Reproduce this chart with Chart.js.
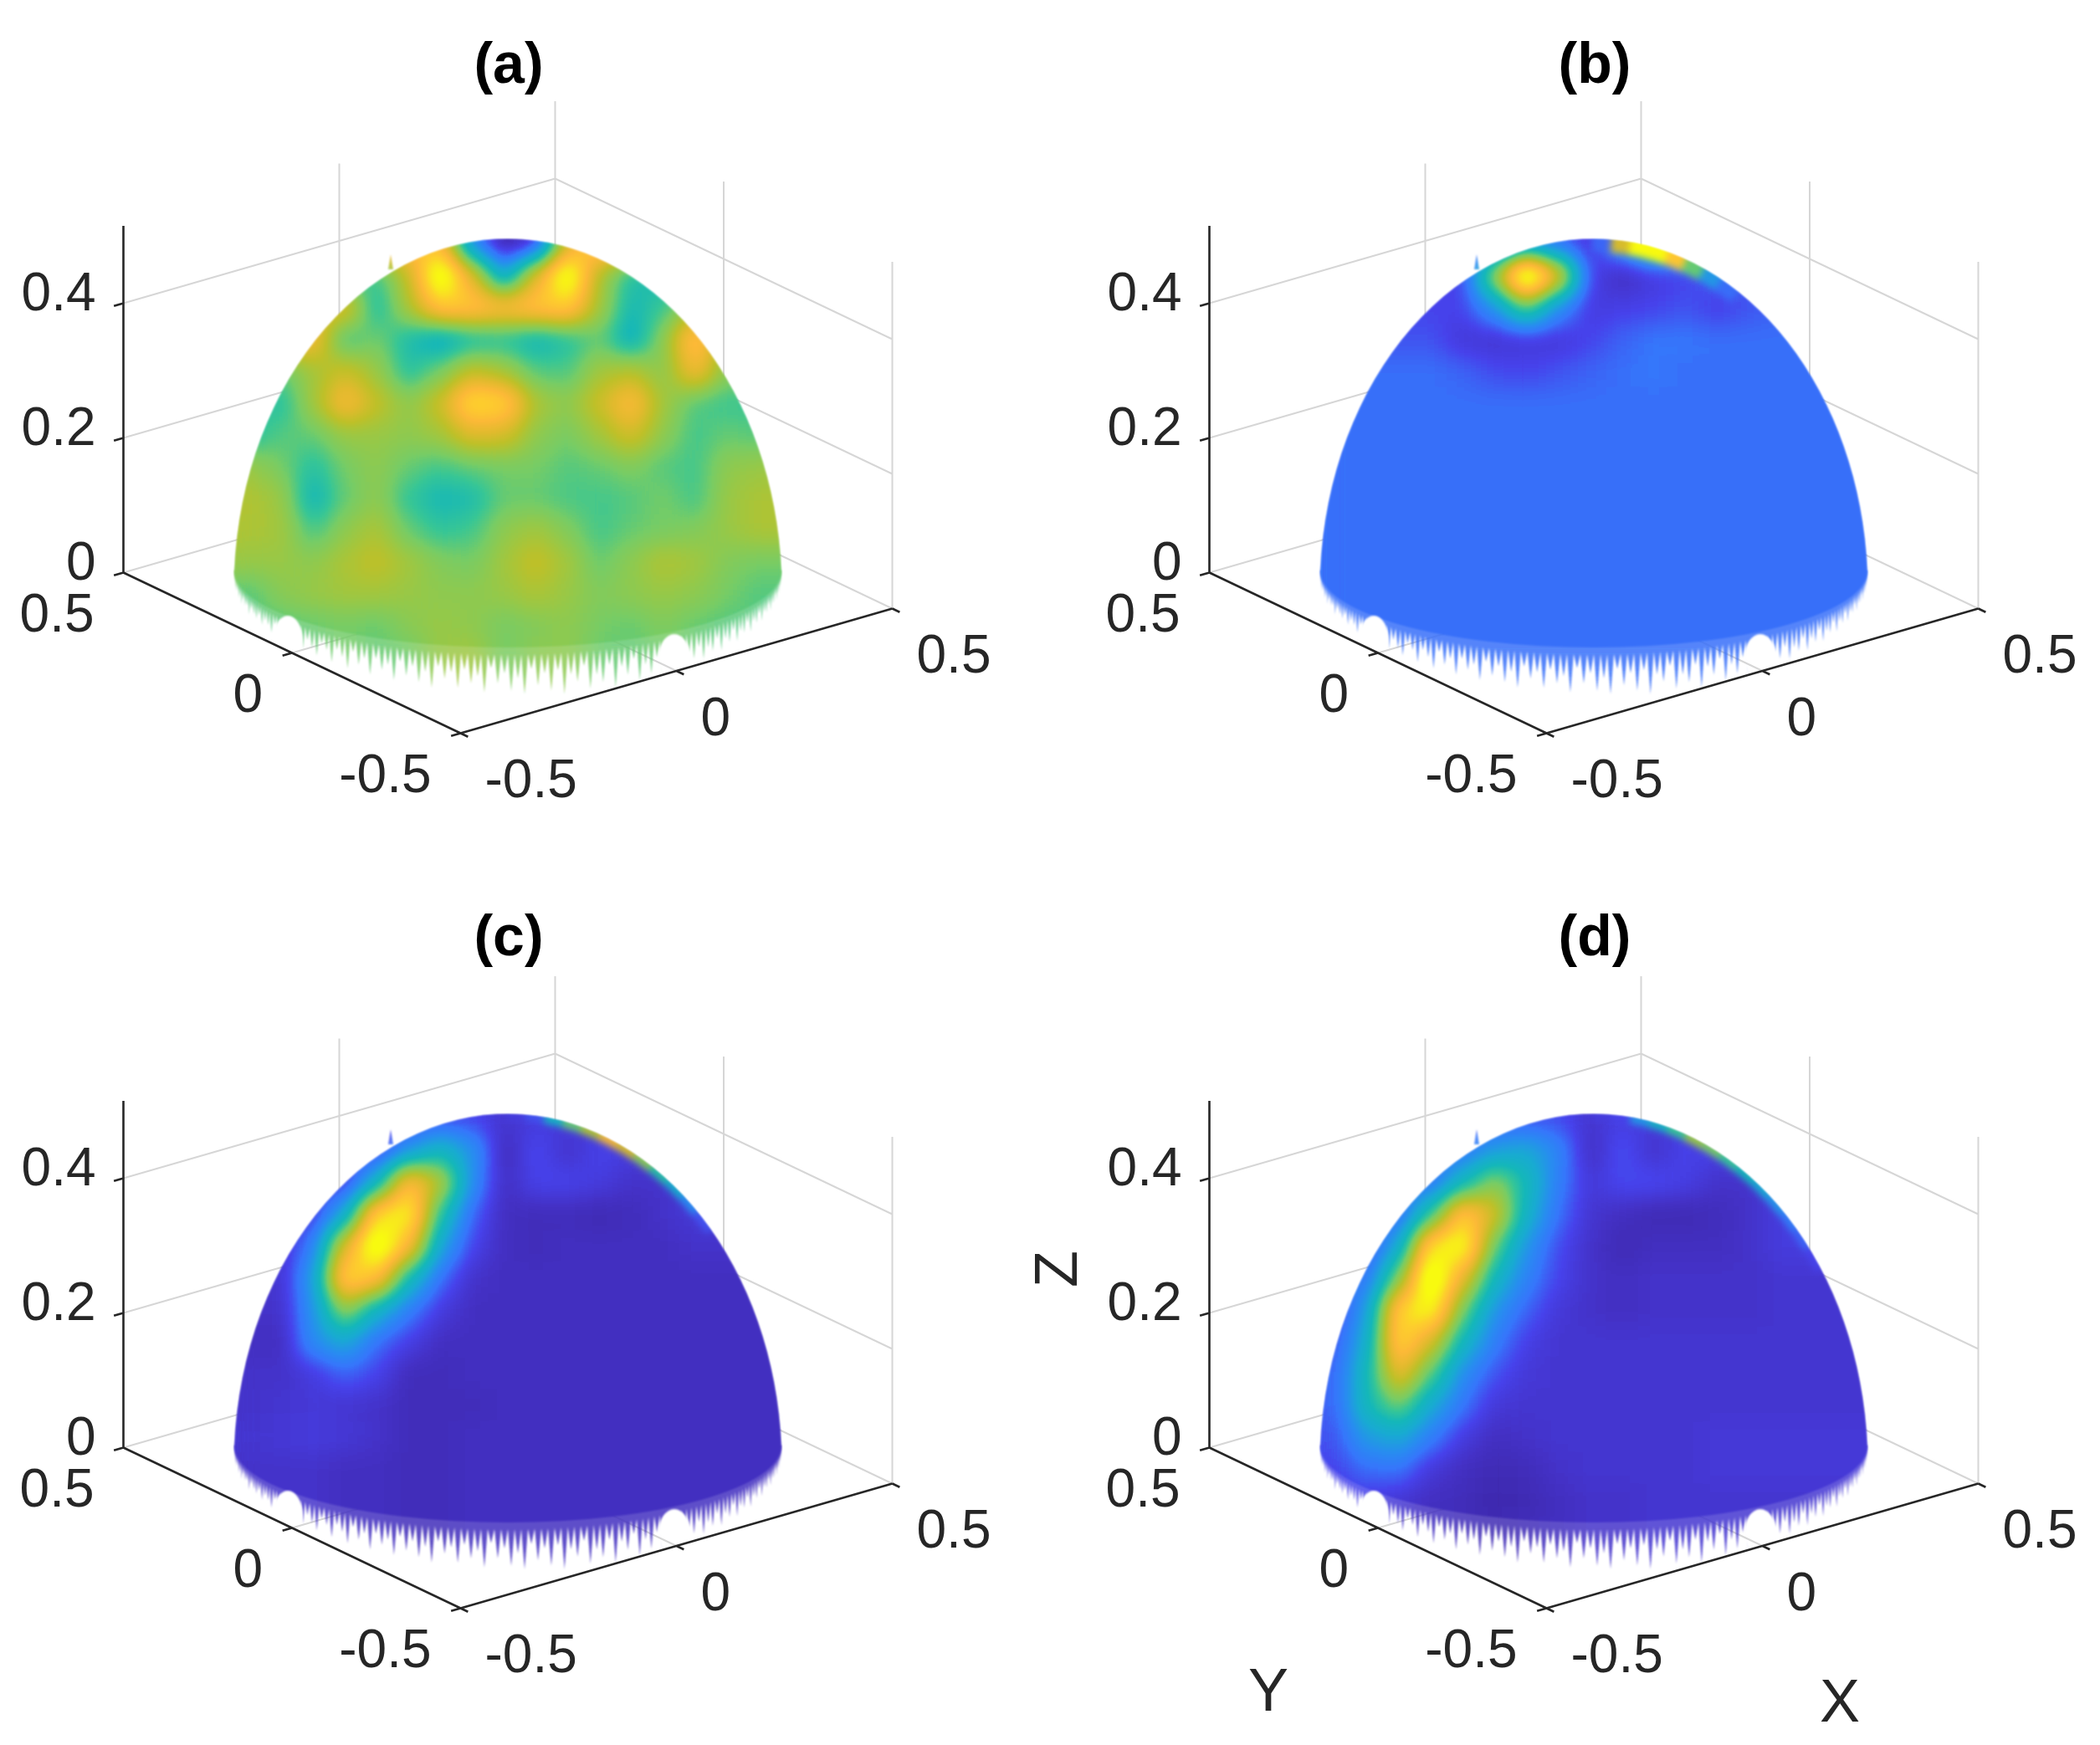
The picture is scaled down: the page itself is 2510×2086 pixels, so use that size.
<!DOCTYPE html>
<html><head><meta charset="utf-8">
<script src="https://cdn.jsdelivr.net/npm/chart.js@4/dist/chart.umd.min.js"></script>
<style>
html,body{margin:0;padding:0;background:#fff;width:2510px;height:2086px;overflow:hidden}
canvas{position:absolute;filter:blur(0.6px)}
</style></head><body>
<canvas id="pa" width="1200" height="1043" style="left:0;top:0"></canvas>
<canvas id="pb" width="1310" height="1043" style="left:1200px;top:0"></canvas>
<canvas id="pc" width="1200" height="1043" style="left:0;top:1043px"></canvas>
<canvas id="pd" width="1310" height="1043" style="left:1200px;top:1043px"></canvas>
<script>
// tick labels of the three axes
const xTicks = [-0.5, 0, 0.5];
const yTicks = [-0.5, 0, 0.5];
const zTicks = [0, 0.2, 0.4];
const zTop = 0.515;
// sample columns / rows of the field, in view-plane units
const gridCols = [-308,-270,-232,-194,-156,-118,-80,-42,-4,34,72,110,148,186,224,262,300,338];
const gridRows = [414,376,338,300,262,224,186,148,110,72,34,-4,-42,-80];
// field level (0-100, hot cores may read above) at each sample
const fieldA = [
[85,85,85,85,85,85,80,20,0,6,70,92,85,85,85,85,85,85],
[45,45,45,45,45,66,112,72,28,72,110,62,42,38,38,38,38,38],
[72,72,72,72,40,62,86,86,82,86,88,60,38,45,60,60,60,60],
[78,78,78,45,52,40,32,40,42,36,42,50,34,55,88,60,60,60],
[50,50,60,68,58,42,52,66,60,48,47,60,64,55,78,55,55,55],
[45,42,60,80,66,56,68,94,90,62,56,68,82,60,48,45,45,45],
[42,48,50,58,58,56,60,72,70,56,52,60,70,56,46,50,48,48],
[58,52,42,52,56,50,46,50,52,52,48,50,54,48,46,56,58,58],
[63,58,36,50,56,44,38,40,50,50,47,46,48,52,46,58,62,62],
[62,60,46,56,62,50,44,46,56,60,54,46,50,52,54,58,62,62],
[58,58,56,62,66,60,54,52,60,67,60,50,56,63,60,54,52,52],
[48,55,58,60,60,58,56,56,58,62,58,54,56,58,56,52,48,48],
[48,48,50,52,50,55,58,56,52,54,56,52,50,54,50,48,48,48],
[48,48,50,52,50,50,58,60,52,56,56,50,50,50,50,48,48,48]];
const fieldB = [
[8,8,8,8,8,8,22,14,7,25,45,35,20,20,20,20,20,20],
[10,10,10,10,10,58,120,74,10,4,8,10,14,14,14,14,14,14],
[10,10,10,10,10,24,50,22,8,9,10,12,9,12,14,14,14,14],
[12,12,12,12,7,6,7,7,10,14,16,16,15,15,15,15,15,15],
[15,15,15,15,14,11,10,12,14,15,16,15,15,15,15,15,15,15],
[15,15,15,15,15,15,15,15,15,15,15,15,15,15,15,15,15,15],
[15,15,15,15,15,15,15,15,15,15,15,15,15,15,15,15,15,15],
[15,15,15,15,15,15,15,15,15,15,15,15,15,15,15,15,15,15],
[15,15,15,15,15,15,15,15,15,15,15,15,15,15,15,15,15,15],
[15,15,15,15,15,15,15,15,15,15,15,15,15,15,15,15,15,15],
[15,15,15,15,15,15,15,15,15,15,15,15,15,15,15,15,15,15],
[15,15,15,15,15,15,15,15,15,15,15,15,15,15,15,15,15,15],
[15,15,15,15,15,15,15,15,15,15,15,15,15,15,15,15,15,15],
[15,15,15,15,15,15,15,15,15,15,15,15,15,15,15,15,15,15]];
const fieldC = [
[8,8,8,8,8,8,10,10,6,8,8,7,7,7,7,7,7,7],
[8,8,8,8,8,24,36,24,3,11,5,10,8,8,8,8,8,8],
[8,8,8,8,34,84,64,22,4,10,10,8,5,5,8,8,8,8],
[8,8,8,30,92,100,42,14,4,3,3,2,3,5,7,7,7,7],
[6,6,18,72,112,80,28,10,4,3,4,4,4,4,5,5,5,5],
[6,6,26,92,84,38,15,5,4,4,4,4,4,4,4,4,4,4],
[5,5,24,58,34,18,8,4,4,4,4,4,4,4,4,4,4,4],
[4,4,22,30,15,9,4,4,4,4,4,4,4,4,4,4,4,4],
[5,5,8,14,10,3,3,4,4,4,4,4,4,4,4,4,4,4],
[5,6,7,6,5,3,3,3,4,4,4,4,4,4,4,4,4,4],
[6,7,8,7,5,3,3,4,4,4,4,4,4,4,4,4,4,4],
[5,5,5,4,4,3,3,4,4,4,4,4,4,4,4,4,4,4],
[5,5,5,4,4,3,3,4,4,4,4,4,4,4,4,4,4,4],
[5,5,5,4,4,3,3,4,4,4,4,4,4,4,4,4,4,4]];
const fieldD = [
[9,9,9,9,9,11,11,11,6,9,8,8,8,8,8,8,8,8],
[14,14,14,14,16,26,30,20,4,12,5,10,9,9,9,9,9,9],
[15,15,15,15,36,56,38,18,7,11,11,9,5,5,9,9,9,9],
[14,14,14,44,88,70,34,15,6,4,2,2,3,5,8,8,8,8],
[10,10,30,94,104,50,24,11,5,2,4,4,4,5,8,8,8,8],
[16,16,54,114,74,36,19,10,5,4,5,5,5,5,6,6,6,6],
[8,26,90,102,52,24,14,7,5,4,5,5,5,5,6,6,6,6],
[12,32,92,70,36,18,9,6,6,6,6,6,6,6,6,6,6,6],
[14,38,76,48,22,12,7,6,6,6,6,6,6,6,6,6,6,6],
[14,38,52,30,16,7,6,6,6,6,6,6,6,6,6,6,6,6],
[12,26,30,18,8,4,5,6,6,6,6,6,7,7,7,7,7,7],
[10,15,16,7,4,2,3,5,6,6,6,6,7,7,7,7,7,7],
[8,8,6,4,3,1,2,4,5,5,6,6,6,6,6,6,6,6],
[8,6,5,4,3,2,3,4,5,5,6,6,6,6,6,6,6,6]];
// levels along the upper right rim, from near the top of the dome downwards
const rimA = [];
const rimB = [14,70,100,100,85,50,25,15];
const rimC = [8,12,35,50,62,78,70,55,42,32,22,12];
const rimD = [8,10,25,35,45,58,52,45,38,30,24,18,14,10];
const rimWidths = [0, 30, 14, 14];
// frayed lower rim of the surface: hand-read spike lengths, left to right
const fringeLengths = [6,10,8,14,9,12,8,15,10,17,9,14,12,20,11,15,18,12,21,14,17,24,12,20,15,26,14,21,18,27,15,23,30,14,20,33,17,24,36,15,29,20,38,18,30,23,40,17,33,21,39,26,44,18,32,24,42,20,36,27,46,17,35,23,44,29,48,18,38,24,45,21,50,27,36,18,46,30,40,20,48,24,35,17,44,26,38,20,40,29,33,17,39,23,32,20,36,24,30,17,33,21,27,15,30,20,24,14,27,17,21,12,23,15,18,11,20,14,15,9,17,11,14,8,12,9,11,6];
const titles = ['(a)','(b)','(c)','(d)'];
const fields = [fieldA, fieldB, fieldC, fieldD];
const rims = [rimA, rimB, rimC, rimD];
const canvases = ['pa','pb','pc','pd'];
const panelWidths = [1200, 1310, 1200, 1310];
const origins = [[607,706],[705,706],[607,709],[705,709]];
const colourStops = [[0,60,38,168],[5,68,50,200],[10,70,66,235],[16,53,118,251],[22,40,140,240],[30,24,170,210],[38,20,183,185],[45,54,198,150],[52,120,204,100],[58,152,200,70],[65,190,192,40],[72,225,186,45],[80,252,185,55],[88,253,205,45],[94,248,230,30],[100,248,250,15],[122,248,250,15]];
const GRAY_PER_LEVEL = 2.1;

const lut = [];
function levelColour(v) {
  let i = 0;
  while (i < colourStops.length - 2 && v > colourStops[i + 1][0]) i++;
  const a = colourStops[i], b = colourStops[i + 1], t = (v - a[0]) / (b[0] - a[0]);
  return [1, 2, 3].map(k => Math.round(a[k] + (b[k] - a[k]) * t));
}
for (let g = 0; g < 256; g++) lut.push(levelColour(g / GRAY_PER_LEVEL));

// orthographic view of the axes box
const project = (x, y, z) => ({ x: 516 * x - 403 * y, y: 149 * x + 192 * y + 805 * z });
const GAP = { x: NaN, y: NaN };
function segs(list) {
  const out = [];
  list.forEach(([a, b]) => out.push(project(...a), project(...b), GAP));
  return out;
}
function gridSegments() {
  const l = [];
  zTicks.forEach(z => { l.push([[-.5, .5, z], [.5, .5, z]]); l.push([[.5, .5, z], [.5, -.5, z]]); });
  xTicks.forEach(x => { if (x > -.5) l.push([[x, .5, 0], [x, .5, zTop]]); });
  yTicks.forEach(y => { if (y < .5) l.push([[.5, y, 0], [.5, y, zTop]]); });
  xTicks.forEach(x => { if (x > -.5 && x < .5) l.push([[x, -.5, 0], [x, .5, 0]]); });
  yTicks.forEach(y => { if (y > -.5 && y < .5) l.push([[-.5, y, 0], [.5, y, 0]]); });
  return segs(l);
}
function axisSegments() {
  const l = [[[-.5, .5, 0], [-.5, .5, zTop]], [[-.5, .5, 0], [-.5, -.5, 0]], [[-.5, -.5, 0], [.5, -.5, 0]]];
  zTicks.forEach(z => l.push([[-.5, .5, z], [-.522, .5, z]]));
  yTicks.forEach(y => l.push([[-.5, y, 0], [-.522, y, 0]]));
  xTicks.forEach(x => l.push([[x, -.5, 0], [x, -.522, 0]]));
  return segs(l);
}

const surfacePlugin = {
  id: 'surface',
  beforeDatasetDraw(chart, args) {
    if (args.index === 1) chart.ctx.globalCompositeOperation = 'destination-over';
  },
  afterDatasetDraw(chart, args, opts) {
    const ctx = chart.ctx, cv = chart.canvas, W = cv.width, H = cv.height;
    if (args.index === 1) { ctx.globalCompositeOperation = 'source-over'; return; }
    if (args.index !== 0) return;
    const sx = chart.scales.x, sy = chart.scales.y;
    const tmp = document.createElement('canvas'); tmp.width = W; tmp.height = H;
    tmp.getContext('2d').drawImage(cv, 0, 0);
    ctx.save();
    ctx.setTransform(1, 0, 0, 1, 0, 0);
    ctx.clearRect(0, 0, W, H);
    ctx.filter = 'blur(15px)';
    ctx.drawImage(tmp, 0, 0);
    ctx.filter = 'none';
    const img = ctx.getImageData(0, 0, W, H), d = img.data;
    for (let i = 0; i < d.length; i += 4) {
      if (d[i + 3] > 0) {
        const c = lut[d[i]];
        d[i] = c[0]; d[i + 1] = c[1]; d[i + 2] = c[2]; d[i + 3] = 255;
      }
    }
    ctx.putImageData(img, 0, 0);
    // silhouette of the dome: a solid body plus slightly paler frayed spikes
    const cx = sx.getPixelForValue(0), cy = sy.getPixelForValue(0);
    const m = document.createElement('canvas'); m.width = W; m.height = H;
    const k = m.getContext('2d');
    k.filter = 'blur(1.2px)';
    k.fillStyle = '#000';
    const rx = 327, ry = 420, baseY = cy - 24, baseR = 100, a0 = Math.asin(24 / 420);
    k.globalAlpha = 0.85;
    k.beginPath();
    k.ellipse(cx, cy, rx, ry, 0, Math.PI + a0, 2 * Math.PI - a0);
    const n = fringeLengths.length;
    for (let i = n - 1; i >= 0; i--) {
      const t0 = Math.PI * (i + 1) / n, t1 = Math.PI * (i + .5) / n, t2 = Math.PI * i / n;
      k.lineTo(cx + rx * Math.cos(Math.PI - t0), baseY + baseR * Math.sin(t0));
      k.lineTo(cx + rx * Math.cos(Math.PI - t1), baseY + baseR * Math.sin(t1) + fringeLengths[i]);
      k.lineTo(cx + rx * Math.cos(Math.PI - t2), baseY + baseR * Math.sin(t2));
    }
    k.closePath();
    // little spur near the upper left rim
    k.moveTo(cx - 143, cy - 384); k.lineTo(cx - 140, cy - 402); k.lineTo(cx - 137, cy - 384); k.closePath();
    k.fill();
    k.globalAlpha = 1;
    k.beginPath();
    k.ellipse(cx, cy, rx, ry, 0, Math.PI + a0, 2 * Math.PI - a0);
    k.ellipse(cx, baseY, rx, baseR - 8, 0, 0, Math.PI);
    k.closePath();
    k.fill();
    k.globalCompositeOperation = 'destination-out';
    k.beginPath();
    k.ellipse(cx - 263, cy + 60, 18, 30, 0, 0, 2 * Math.PI);
    k.ellipse(cx + 199, cy + 80, 19, 28, 0, 0, 2 * Math.PI);
    k.fill();
    ctx.globalCompositeOperation = 'destination-in';
    ctx.drawImage(m, 0, 0);
    // thin coloured band along the upper right rim, softened as one layer
    const rc = document.createElement('canvas'); rc.width = W; rc.height = H;
    const q = rc.getContext('2d');
    q.lineWidth = opts.rimWidth;
    opts.rim.forEach((v, i) => {
      const th0 = (90 - i * 4 + .3) * Math.PI / 180, th1 = (86 - i * 4) * Math.PI / 180;
      const c = levelColour(v);
      q.strokeStyle = `rgb(${c[0]},${c[1]},${c[2]})`;
      q.beginPath();
      q.ellipse(cx, cy, rx, ry, 0, -th0, -th1);
      q.stroke();
    });
    ctx.globalCompositeOperation = 'source-atop';
    ctx.filter = 'blur(4px)';
    ctx.drawImage(rc, 0, 0);
    ctx.restore();
  },
  afterDraw(chart, _a, opts) {
    const ctx = chart.ctx, sx = chart.scales.x, sy = chart.scales.y;
    const pt = (x, y, z) => { const p = project(x, y, z); return [sx.getPixelForValue(p.x), sy.getPixelForValue(p.y)]; };
    ctx.save();
    ctx.fillStyle = '#262626';
    ctx.font = '64px "Liberation Sans"';
    ctx.textBaseline = 'middle';
    ctx.textAlign = 'right';
    zTicks.forEach(z => { const [a, b] = pt(-.5, .5, z); ctx.fillText(String(z), a - 33, b - 9); });
    yTicks.forEach(y => { const [a, b] = pt(-.5, y, 0); ctx.fillText(String(y), a - 35, b + 53); });
    ctx.textAlign = 'left';
    xTicks.forEach(x => { const [a, b] = pt(x, -.5, 0); ctx.fillText(String(x), a + 29, b + 59); });
    ctx.textAlign = 'center';
    ctx.fillStyle = '#000';
    ctx.font = 'bold 68px "Liberation Sans"';
    ctx.fillText(opts.title, sx.getPixelForValue(0) + 1, 80);
    if (opts.labels) {
      ctx.fillStyle = '#262626';
      ctx.font = '72px "Liberation Sans"';
      let [a, b] = pt(0, 0, 0);
      ctx.fillText('Y', a - 389, b + 273);
      ctx.fillText('X', a + 294, b + 286);
      ctx.save();
      ctx.translate(a - 638, b - 235);
      ctx.rotate(-Math.PI / 2);
      ctx.fillText('Z', 0, 0);
      ctx.restore();
    }
    ctx.restore();
  }
};

fields.forEach((field, p) => {
  const [ox, oy] = origins[p];
  const points = [], colours = [];
  field.forEach((row, r) => row.forEach((v, c) => {
    points.push({ x: gridCols[c], y: gridRows[r] });
    const g = Math.round(v * GRAY_PER_LEVEL);
    colours.push(`rgb(${g},${g},${g})`);
  }));
  new Chart(document.getElementById(canvases[p]), {
    type: 'scatter',
    plugins: [surfacePlugin],
    data: { datasets: [
      { label: 'surface', data: points, order: 3, clip: false, pointStyle: 'rect', pointRadius: 27.6, pointBorderWidth: 0, pointBackgroundColor: colours, showLine: false },
      { label: 'grid', data: gridSegments(), order: 2, clip: false, showLine: true, pointRadius: 0, borderWidth: 2, borderColor: '#d6d6d6', spanGaps: false },
      { label: 'axes', data: axisSegments(), order: 1, clip: false, showLine: true, pointRadius: 0, borderWidth: 2.6, borderColor: '#262626', spanGaps: false }
    ] },
    options: {
      responsive: false, animation: false, devicePixelRatio: 1, events: [],
      layout: { padding: 0, autoPadding: false },
      scales: {
        x: { type: 'linear', display: false, min: -ox, max: panelWidths[p] - ox },
        y: { type: 'linear', display: false, min: oy - 1043, max: oy }
      },
      plugins: { legend: { display: false }, tooltip: { enabled: false }, title: { display: false },
        surface: { title: titles[p], labels: p === 3, rim: rims[p], rimWidth: rimWidths[p] } }
    }
  });
});
</script>
</body></html>
